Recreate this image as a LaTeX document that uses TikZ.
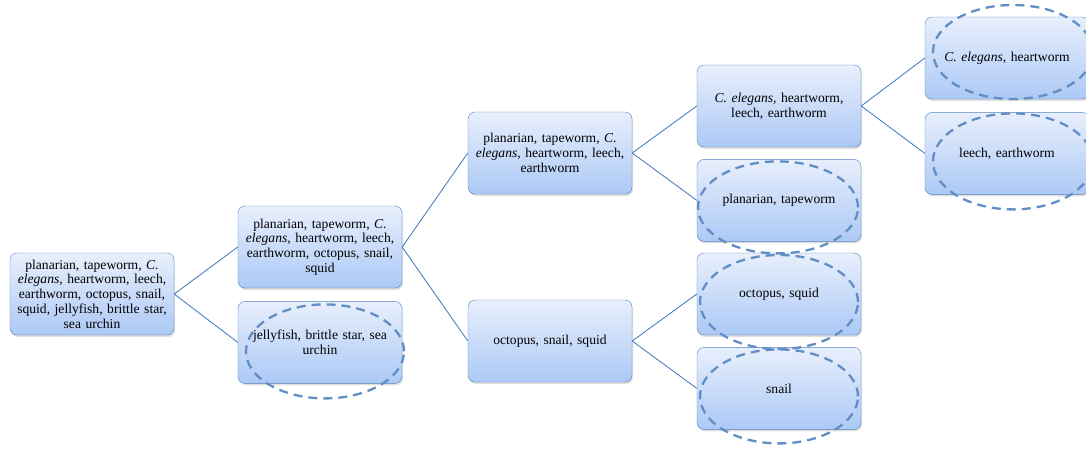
\documentclass[tikz,border=0pt]{standalone}
\usepackage{fontspec}
\setmainfont{Liberation Serif}
\usetikzlibrary{positioning,calc,shadows}
\definecolor{edgeblue}{RGB}{79,129,189}
\definecolor{topblue}{RGB}{232,239,252}
\definecolor{botblue}{RGB}{172,201,246}

\begin{document}
\begin{tikzpicture}[
    x=1pt, y=1pt,
    box/.style={rectangle, draw=edgeblue, rounded corners=7pt, top color=topblue, bottom color=botblue,
        minimum width=164pt, minimum height=82pt, text width=162pt, inner sep=1pt, align=center,
        font=\fontsize{13.6}{14.8}\selectfont,
        drop shadow={opacity=0.25, shadow xshift=1pt, shadow yshift=-2pt}},
    link/.style={draw=edgeblue, line width=0.9pt},
    dashring/.style={draw=edgeblue!90!white, line width=2.3pt, dash pattern=on 9pt off 6pt}
]
\useasboundingbox (0,0) rectangle (1086,-448);
\clip (0,0) rectangle (1086,-448);

% Nodes
\node[box] (all) at (92,-294) {planarian, tapeworm, \textit{C.}\\ \textit{elegans,} heartworm, leech,\\ earthworm, octopus, snail,\\ squid, jellyfish, brittle star,\\ sea urchin};
\node[box] (bilat) at (320,-247) {planarian, tapeworm, \textit{C.}\\ \textit{elegans,} heartworm, leech,\\ earthworm, octopus, snail,\\ squid};
\node[box, below=13pt of bilat] (radial) {jellyfish, brittle star, sea\\ urchin};
\node[box] (worms) at (550,-153) {planarian, tapeworm, \textit{C.}\\ \textit{elegans,} heartworm, leech,\\ earthworm};
\node[box] (molluscs) at (550,-341) {octopus, snail, squid};
\node[box] (round) at (779,-106) {\textit{C. elegans,} heartworm,\\ leech, earthworm};
\node[box, below=12pt of round] (flat) {planarian, tapeworm};
\node[box] (cephal) at (779,-294) {octopus, squid};
\node[box, below=12pt of cephal] (snail) {snail};
\node[box] (nema) at (1007,-58) {\textit{C. elegans,} heartworm};
\node[box, below=13pt of nema] (annel) {leech, earthworm};

% Edges
\draw[link] (all.east) -- (bilat.west);
\draw[link] (all.east) -- (radial.west);
\draw[link] (bilat.east) -- (worms.west);
\draw[link] (bilat.east) -- (molluscs.west);
\draw[link] (worms.east) -- (round.west);
\draw[link] (worms.east) -- (flat.west);
\draw[link] (molluscs.east) -- (cephal.west);
\draw[link] (molluscs.east) -- (snail.west);
\draw[link] (round.east) -- (nema.west);
\draw[link] (round.east) -- (annel.west);

% Final groups
\draw[dashring] ($(radial)+(5,-9)$) ellipse [x radius=79, y radius=47];
\draw[dashring] ($(flat)+(-1,-7)$) ellipse [x radius=80, y radius=46];
\draw[dashring] ($(cephal)+(0,-8)$) ellipse [x radius=79, y radius=47];
\draw[dashring] ($(snail)+(0,-8)$) ellipse [x radius=79, y radius=47];
\draw[dashring] ($(nema)+(6,6)$) ellipse [x radius=80, y radius=47];
\draw[dashring] ($(annel)+(6,-8)$) ellipse [x radius=80, y radius=48];
\end{tikzpicture}
\end{document}
